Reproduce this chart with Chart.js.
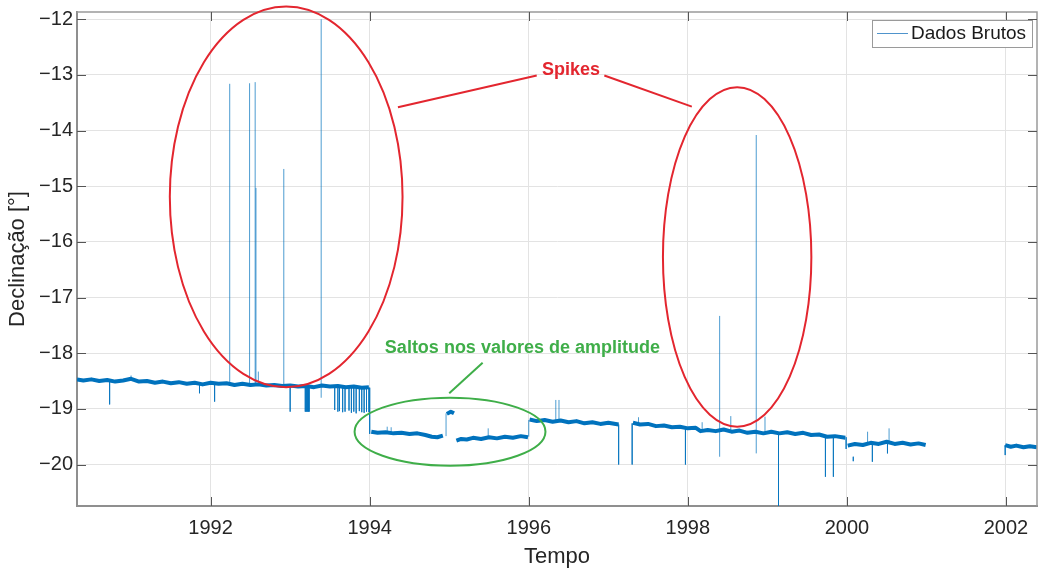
<!DOCTYPE html>
<html>
<head>
<meta charset="utf-8">
<title>Declinação - Dados Brutos</title>
<script src="https://cdn.jsdelivr.net/npm/chart.js@4.4.1/dist/chart.umd.min.js"></script>
<style>
  html, body { margin: 0; padding: 0; background: #fff; }
  #wrap { width: 1038px; height: 571px; }
</style>
</head>
<body>
<div id="wrap"><canvas id="declChart" width="1038" height="571"></canvas></div>
<script>
// ---- axis ticks ----
const xTicks = [1992, 1994, 1996, 1998, 2000, 2002];
const yTicks = [-20, -19, -18, -17, -16, -15, -14, -13, -12];

// ---- baseline level of the record (null breaks the trace) ----
const baseYears = [
  // 1990 - 1994
  1990.32, 1990.40, 1990.50, 1990.60, 1990.70, 1990.80, 1990.90, 1991.00, 1991.10, 1991.20,
  1991.30, 1991.40, 1991.50, 1991.60, 1991.70, 1991.80, 1991.90, 1992.00, 1992.10, 1992.20,
  1992.30, 1992.40, 1992.50, 1992.60, 1992.70, 1992.80, 1992.90, 1993.00, 1993.10, 1993.20,
  1993.30, 1993.40, 1993.50, 1993.60, 1993.70, 1993.80, 1993.90, 1993.99, 1993.995,
  // 1994 - 1995
  1994.02, 1994.10, 1994.20, 1994.30, 1994.40, 1994.50, 1994.60, 1994.70, 1994.78, 1994.85,
  1994.92, 1994.95,
  1994.97, 1995.02, 1995.06, 1995.07,
  1995.09, 1995.15, 1995.22, 1995.30, 1995.40, 1995.50, 1995.60, 1995.70, 1995.80, 1995.90,
  1995.99, 1995.995,
  // 1996 - 1997
  1996.01, 1996.10, 1996.20, 1996.30, 1996.40, 1996.50, 1996.60, 1996.70, 1996.80, 1996.90,
  1997.00, 1997.13, 1997.14,
  // 1997 - 2000
  1997.31, 1997.40, 1997.50, 1997.60, 1997.70, 1997.80, 1997.90, 1998.00, 1998.10, 1998.16,
  1998.25, 1998.35, 1998.45, 1998.55, 1998.65, 1998.75, 1998.85, 1998.95, 1999.05, 1999.15,
  1999.25, 1999.35, 1999.45, 1999.55, 1999.65, 1999.75, 1999.85, 1999.98, 1999.99,
  // 2000 - 2001
  2000.01, 2000.10, 2000.20, 2000.30, 2000.40, 2000.50, 2000.60, 2000.70, 2000.80, 2000.90,
  2000.99, 2001.00,
  // 2002
  2001.99, 2002.06, 2002.13, 2002.22, 2002.30, 2002.39
];
const baseDecl = [
  -18.47, -18.49, -18.47, -18.50, -18.48, -18.51, -18.49, -18.46, -18.51, -18.50,
  -18.53, -18.51, -18.54, -18.52, -18.55, -18.53, -18.56, -18.53, -18.55, -18.54,
  -18.57, -18.55, -18.57, -18.56, -18.58, -18.57, -18.59, -18.58, -18.60, -18.59,
  -18.61, -18.58, -18.60, -18.59, -18.61, -18.60, -18.62, -18.61, null,
  -19.41, -19.43, -19.42, -19.44, -19.43, -19.45, -19.44, -19.47, -19.50, -19.51,
  -19.48, null,
  -19.09, -19.05, -19.08, null,
  -19.57, -19.54, -19.55, -19.52, -19.54, -19.51, -19.53, -19.50, -19.52, -19.49,
  -19.51, null,
  -19.19, -19.22, -19.20, -19.23, -19.21, -19.24, -19.22, -19.26, -19.24, -19.27,
  -19.25, -19.28, null,
  -19.25, -19.28, -19.27, -19.31, -19.30, -19.33, -19.32, -19.35, -19.34, -19.40,
  -19.38, -19.40, -19.37, -19.41, -19.39, -19.43, -19.41, -19.44, -19.41, -19.44,
  -19.42, -19.45, -19.43, -19.47, -19.46, -19.50, -19.49, -19.52, null,
  -19.66, -19.63, -19.65, -19.61, -19.63, -19.59, -19.63, -19.61, -19.64, -19.62,
  -19.65, null,
  -19.65, -19.68, -19.66, -19.69, -19.67, -19.69
];

// ---- isolated excursions: year, start level, end level ----
const spikeYears = [
  1990.73, 1991.00, 1991.86, 1992.05, 1992.24, 1992.49, 1992.56, 1992.57, 1992.60,
  1992.92, 1993.00, 1993.19, 1993.20, 1993.21, 1993.22, 1993.23, 1993.24, 1993.39,
  1993.56, 1993.60, 1993.62, 1993.66, 1993.69, 1993.74, 1993.77, 1993.80, 1993.83,
  1993.87, 1993.90, 1993.93, 1993.96, 1993.99, 1994.00, 1994.22, 1994.27, 1994.96,
  1995.49, 1996.00, 1996.34, 1996.38, 1997.13, 1997.30, 1997.38, 1997.97, 1998.18,
  1998.40, 1998.54, 1998.86, 1998.97, 1999.14, 1999.73, 1999.83, 1999.99, 2000.08,
  2000.26, 2000.32, 2000.51, 2000.53, 2001.99
];
const spikeFrom = [
  -18.50, -18.47, -18.54, -18.54, -18.56, -18.57, -18.57, -18.57, -18.57,
  -18.59, -18.59, -18.60, -18.60, -18.60, -18.60, -18.60, -18.60, -18.80,
  -18.60, -18.60, -18.60, -18.60, -18.60, -18.60, -18.60, -18.61, -18.61,
  -18.61, -18.61, -18.61, -18.62, -18.62, -18.62, -19.42, -19.42, -19.49,
  -19.51, -19.50, -19.22, -19.22, -19.28, -19.26, -19.28, -19.35, -19.38,
  -19.86, -19.40, -19.80, -19.42, -19.43, -19.50, -19.50, -19.51, -19.86,
  -19.62, -19.62, -19.60, -19.60, -19.65
];
const spikeTo = [
  -18.92, -18.40, -18.72, -18.87, -13.16, -13.15, -13.13, -15.03, -18.33,
  -14.69, -19.05, -19.05, -19.05, -19.05, -19.05, -19.05, -19.05, -12.00,
  -19.02, -19.05, -19.04, -19.06, -19.05, -19.03, -19.07, -19.05, -19.08,
  -19.04, -19.06, -19.07, -19.05, -19.06, -19.45, -19.32, -19.33, -19.08,
  -19.35, -19.20, -18.84, -18.84, -20.00, -20.00, -19.15, -20.00, -19.24,
  -17.33, -19.13, -14.08, -19.14, -20.90, -20.22, -20.22, -19.72, -19.94,
  -19.41, -19.95, -19.80, -19.35, -19.83
];

// ---- build datasets ----
const baseData = baseYears.map((t, i) => ({ x: t, y: baseDecl[i] }));
const spikeData = [];
spikeYears.forEach((t, i) => {
  spikeData.push({ x: t, y: spikeFrom[i] }, { x: t, y: spikeTo[i] }, { x: t, y: null });
});

const FONT = "'Liberation Sans', Arial, Helvetica, sans-serif";
const INK = '#262626';
const TRACE = '#0072BD';
const TRACE_THIN = 'rgba(0,114,189,0.7)';

// frame, inward ticks, highlight ellipses, notes and legend box
const decoracoes = {
  id: 'decoracoes',
  afterDraw(chart) {
    const { ctx, chartArea: a, scales: { x, y } } = chart;
    const px = v => x.getPixelForValue(v);
    const py = v => y.getPixelForValue(v);

    function seg(x1, y1, x2, y2) {
      ctx.beginPath();
      ctx.moveTo(x1, y1);
      ctx.lineTo(x2, y2);
      ctx.stroke();
    }
    function ellipse(cx, cy, rx, ry, color) {
      const X = px(cx), Y = py(cy);
      ctx.strokeStyle = color;
      ctx.lineWidth = 2;
      ctx.beginPath();
      ctx.ellipse(X, Y, px(cx + rx) - X, Y - py(cy + ry), 0, 0, Math.PI * 2);
      ctx.stroke();
    }

    ctx.save();

    // top / right frame
    ctx.strokeStyle = '#9a9a9a';
    ctx.lineWidth = 1.5;
    ctx.beginPath();
    ctx.moveTo(a.left, a.top);
    ctx.lineTo(a.right, a.top);
    ctx.lineTo(a.right, a.bottom);
    ctx.stroke();

    // tick marks pointing into the plot
    ctx.strokeStyle = '#555';
    ctx.lineWidth = 1;
    xTicks.forEach(v => {
      const X = Math.round(px(v)) + 0.5;
      seg(X, a.bottom, X, a.bottom - 9);
      seg(X, a.top, X, a.top + 9);
    });
    yTicks.forEach(v => {
      const Y = Math.round(py(v)) + 0.5;
      seg(a.left, Y, a.left + 9, Y);
      seg(a.right, Y, a.right - 9, Y);
    });

    // spike groups
    ellipse(1992.95, -15.19, 1.463, 3.42, '#e3262f');
    ellipse(1998.62, -16.27, 0.933, 3.05, '#e3262f');
    // level jumps
    ellipse(1995.01, -19.41, 1.20, 0.61, '#3fae49');

    ctx.lineWidth = 2;
    ctx.strokeStyle = '#e3262f';
    seg(px(1994.355), py(-13.58), px(1996.10), py(-13.01));
    seg(px(1996.95), py(-13.01), px(1998.05), py(-13.57));
    ctx.strokeStyle = '#3fae49';
    seg(px(1995.00), py(-18.72), px(1995.42), py(-18.17));

    ctx.font = 'bold 18px ' + FONT;
    ctx.textAlign = 'center';
    ctx.textBaseline = 'middle';
    ctx.fillStyle = '#e3262f';
    ctx.fillText('Spikes', px(1996.53), py(-12.91));
    ctx.fillStyle = '#3fae49';
    ctx.fillText('Saltos nos valores de amplitude', px(1995.92), py(-17.91));

    // legend
    const lw = 160, lh = 27;
    const lx = a.right - 5 - lw, ly = a.top + 8;
    ctx.fillStyle = '#fff';
    ctx.fillRect(lx, ly, lw, lh);
    ctx.strokeStyle = '#9a9a9a';
    ctx.lineWidth = 1;
    ctx.strokeRect(Math.round(lx) + 0.5, Math.round(ly) + 0.5, lw, lh);
    ctx.strokeStyle = '#4f94cc';
    seg(lx + 5, ly + 13.5, lx + 36, ly + 13.5);
    ctx.font = '19px ' + FONT;
    ctx.fillStyle = '#1a1a1a';
    ctx.textAlign = 'left';
    ctx.fillText('Dados Brutos', lx + 39, ly + 14);

    ctx.restore();
  }
};

const ctx = document.getElementById('declChart').getContext('2d');
new Chart(ctx, {
  type: 'line',
  data: {
    datasets: [
      {
        label: 'Dados Brutos',
        data: spikeData,
        borderColor: TRACE_THIN,
        borderWidth: 1,
        pointRadius: 0,
        spanGaps: false,
        tension: 0
      },
      {
        label: 'nível',
        data: baseData,
        borderColor: TRACE,
        borderWidth: 4,
        borderJoinStyle: 'round',
        pointRadius: 0,
        spanGaps: false,
        tension: 0
      }
    ]
  },
  options: {
    responsive: false,
    animation: false,
    devicePixelRatio: 1,
    layout: { padding: { top: 12, right: 1, left: 0, bottom: 0 } },
    plugins: {
      legend: { display: false },
      tooltip: { enabled: false }
    },
    scales: {
      x: {
        type: 'linear',
        min: 1990.32,
        max: 2002.39,
        afterBuildTicks: s => { s.ticks = xTicks.map(v => ({ value: v })); },
        afterFit: s => { s.height = 65; s.paddingLeft = 0; s.paddingRight = 0; },
        grid: { color: '#e3e3e3', drawTicks: false },
        border: { display: true, color: '#8f8f8f', width: 2 },
        ticks: {
          padding: 10,
          color: INK,
          autoSkip: false,
          maxRotation: 0,
          font: { family: FONT, size: 20 },
          callback: v => String(v)
        },
        title: {
          display: true,
          text: 'Tempo',
          color: INK,
          font: { family: FONT, size: 22, lineHeight: 1 },
          padding: { top: 0, bottom: 3 }
        }
      },
      y: {
        type: 'linear',
        min: -20.745,
        max: -11.87,
        afterBuildTicks: s => { s.ticks = yTicks.map(v => ({ value: v })); },
        afterFit: s => { s.width = 77; s.paddingTop = 0; s.paddingBottom = 0; },
        grid: { color: '#e3e3e3', drawTicks: false },
        border: { display: true, color: '#8f8f8f', width: 2 },
        ticks: {
          padding: 4,
          color: INK,
          font: { family: FONT, size: 20 },
          callback: v => String(v).replace('-', '\u2212')
        },
        title: {
          display: true,
          text: 'Declinação [°]',
          color: INK,
          font: { family: FONT, size: 22, lineHeight: 1 },
          padding: { top: 7, bottom: 0 }
        }
      }
    }
  },
  plugins: [decoracoes]
});
</script>
</body>
</html>
